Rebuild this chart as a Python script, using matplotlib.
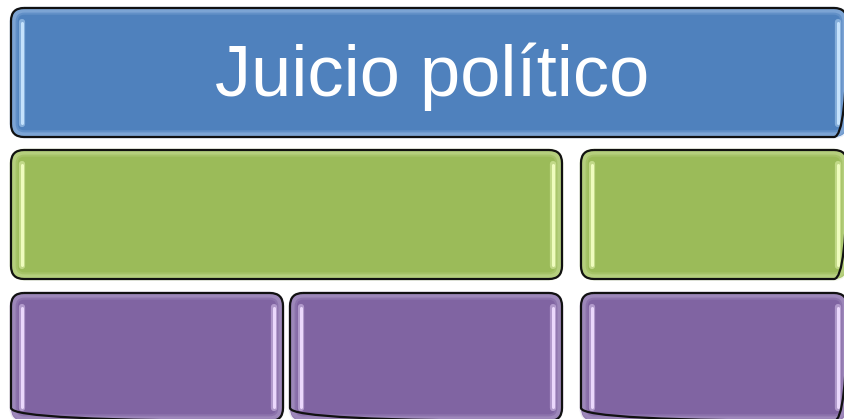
import matplotlib
matplotlib.use("Agg")
import matplotlib.pyplot as plt
from matplotlib.patches import FancyBboxPatch

# Diagram content
box_labels = ["Juicio político", "", "", "", "", ""]
box_fills = ["#4F81BD", "#9BBB59", "#9BBB59", "#8064A2", "#8064A2", "#8064A2"]
box_glows = ["#9DBDE6", "#C8DE98", "#C8DE98", "#B3A0CC", "#B3A0CC", "#B3A0CC"]
box_highlights = ["#C9E6FF", "#F2FFC2", "#F2FFC2", "#EFDCFF", "#EFDCFF", "#EFDCFF"]
# layout (pixels): x0, y0, x1, y1
box_layout = [
    (11, 8, 847, 137),
    (11, 150, 562, 279),
    (581, 150, 847, 279),
    (11, 293, 283, 421),
    (290, 293, 562, 421),
    (581, 293, 847, 421),
]

W, H = 845, 419
fig = plt.figure(figsize=(W / 100, H / 100), dpi=100)
ax = fig.add_axes([0, 0, 1, 1])
ax.set_xlim(0, W)
ax.set_ylim(H, 0)
ax.axis("off")

r = 13
for (x0, y0, x1, y1), fc, gc, hc, lab in zip(box_layout, box_fills, box_glows,
                                              box_highlights, box_labels):
    w, h = x1 - x0, y1 - y0
    ax.add_patch(FancyBboxPatch((x0, y0), w, h,
                                boxstyle=f"round,pad=0,rounding_size={r}",
                                fc=fc, ec="none", zorder=1))
    # inner soft glow
    for lw, a in [(6, 0.25), (3, 0.45)]:
        ax.add_patch(FancyBboxPatch((x0 + 2.5, y0 + 2.5), w - 5, h - 5,
                                    boxstyle=f"round,pad=0,rounding_size={r-2}",
                                    fc="none", ec=gc, lw=lw, alpha=a, zorder=2))
    # outer border
    ax.add_patch(FancyBboxPatch((x0, y0), w, h,
                                boxstyle=f"round,pad=0,rounding_size={r}",
                                fc="none", ec="#111111", lw=1.6, zorder=4))
    # vertical highlight strokes
    for hx in (x0 + 11, x1 - 9):
        ax.plot([hx, hx], [y0 + 14, y1 - 13], color=hc, lw=4.5, alpha=0.45,
                solid_capstyle="round", zorder=3)
        ax.plot([hx, hx], [y0 + 15, y1 - 14], color=hc, lw=2.2, alpha=0.95,
                solid_capstyle="round", zorder=3)
    if lab:
        ax.text(432, 96, lab, color="white", fontsize=52,
                family="Liberation Sans", ha="center", va="baseline", zorder=5)

fig.savefig("out.png", dpi=100, facecolor="white")
